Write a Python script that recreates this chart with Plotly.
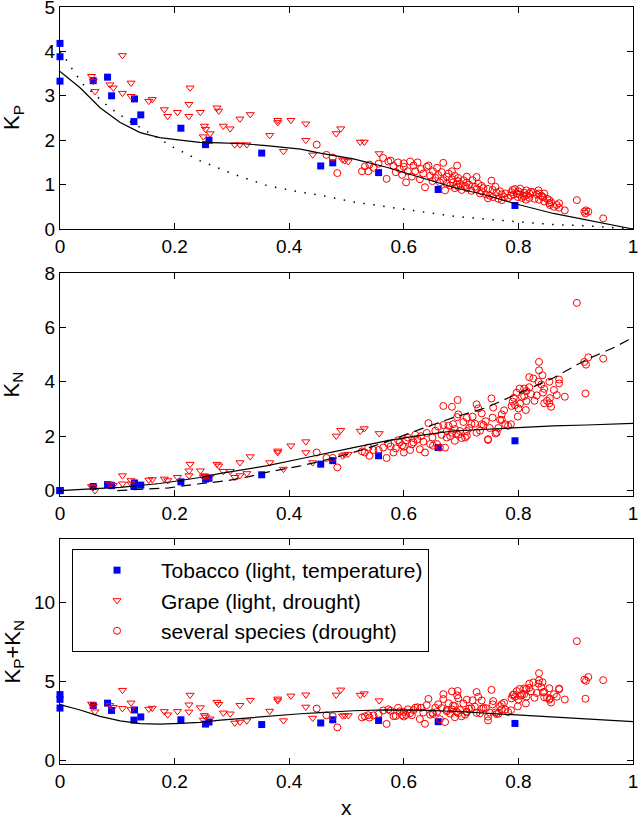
import plotly.graph_objects as go

# ---------------- data ----------------
# Tobacco (light, temperature)
tob_x  = [0, 0, 0, 0.058, 0.083, 0.09, 0.129, 0.13, 0.141, 0.211, 0.254, 0.26, 0.352, 0.455, 0.476, 0.556, 0.66, 0.794]
tob_kp = [4.18, 3.88, 3.33, 3.34, 3.42, 3.00, 2.42, 2.93, 2.57, 2.27, 1.90, 2.00, 1.71, 1.42, 1.49, 1.27, 0.89, 0.53]
tob_kn = [0, 0, 0, 0.15, 0.22, 0.18, 0.15, 0.28, 0.20, 0.32, 0.42, 0.45, 0.58, 0.97, 1.10, 1.28, 1.58, 1.83]

# Grape (light, drought)
gr_x  = [0.055, 0.058, 0.061, 0.087, 0.093, 0.109, 0.109, 0.124, 0.124, 0.155, 0.161, 0.182, 0.188, 0.205,
         0.227, 0.225, 0.225, 0.245, 0.252, 0.254, 0.250, 0.262, 0.274, 0.277, 0.285, 0.297, 0.305, 0.314,
         0.326, 0.314, 0.332, 0.366, 0.380, 0.380, 0.403, 0.429, 0.429, 0.390, 0.441, 0.482, 0.490, 0.524,
         0.531, 0.557, 0.493, 0.497, 0.503]
gr_kp = [3.44, 3.33, 3.10, 3.25, 3.18, 3.91, 3.06, 3.29, 2.99, 2.88, 2.92, 2.69, 2.54, 2.63,
         3.18, 2.81, 2.54, 2.63, 2.32, 2.25, 2.08, 2.15, 2.73, 2.66, 2.32, 2.26, 1.90, 1.90,
         1.90, 2.48, 2.58, 2.11, 2.45, 2.40, 2.45, 2.37, 2.00, 1.75, 1.67, 2.15, 2.26, 1.96,
         1.96, 1.70, 1.56, 1.54, 1.52]
gr_kn = [0.15, 0.12, 0.00, 0.25, 0.20, 0.55, 0.25, 0.37, 0.25, 0.39, 0.41, 0.43, 0.37, 0.49,
         0.97, 0.73, 0.55, 0.73, 0.55, 0.52, 0.50, 0.50, 0.97, 0.91, 0.71, 0.71, 0.49, 0.55,
         0.63, 1.03, 1.25, 1.03, 1.46, 1.40, 1.65, 1.80, 1.40, 0.79, 1.03, 2.01, 2.22, 2.19,
         2.28, 2.10, 1.28, 1.32, 1.34]

# several species (drought)
sp_x  = [0.448, 0.465, 0.476, 0.484, 0.527, 0.532, 0.538, 0.540, 0.547, 0.556, 0.564, 0.570, 0.573, 0.577,
         0.582, 0.586, 0.590, 0.593, 0.597, 0.600, 0.600, 0.604, 0.607, 0.611, 0.614, 0.617, 0.620, 0.624,
         0.628, 0.630, 0.634, 0.637, 0.640, 0.643, 0.646, 0.650, 0.651, 0.655, 0.658, 0.660, 0.663, 0.666,
         0.669, 0.669, 0.672, 0.675, 0.675, 0.678, 0.681, 0.684, 0.684, 0.686, 0.689, 0.689, 0.692, 0.693,
         0.694, 0.695, 0.695, 0.698, 0.701, 0.704, 0.707, 0.710, 0.710, 0.710, 0.714, 0.718, 0.720, 0.724,
         0.727, 0.727, 0.730, 0.733, 0.736, 0.736, 0.739, 0.743, 0.747, 0.747, 0.750, 0.753, 0.755, 0.756,
         0.760, 0.762, 0.765, 0.768, 0.771, 0.771, 0.775, 0.777, 0.782, 0.787, 0.788, 0.790, 0.792, 0.794,
         0.797, 0.799, 0.800, 0.802, 0.803, 0.806, 0.810, 0.810, 0.813, 0.814, 0.814, 0.819, 0.819, 0.822,
         0.826, 0.828, 0.832, 0.835, 0.836, 0.836, 0.840, 0.842, 0.843, 0.845, 0.845, 0.850, 0.854, 0.854,
         0.855, 0.857, 0.862, 0.867, 0.871, 0.871, 0.881, 0.902, 0.915, 0.917, 0.918, 0.922, 0.948]
sp_kp = [1.90, 1.67, 1.61, 1.26, 1.30, 1.41, 1.30, 1.45, 1.38, 1.47, 1.60, 1.13, 1.52, 1.54,
         1.42, 1.28, 1.50, 1.35, 1.22, 1.40, 1.48, 1.05, 1.30, 1.52, 1.18, 1.43, 1.30, 1.50,
         1.12, 1.35, 1.25, 0.94, 1.40, 1.43, 1.20, 1.08, 1.30, 1.15, 1.38, 1.22, 1.05, 1.28,
         1.49, 1.10, 0.87, 1.18, 1.02, 1.25, 0.98, 1.12, 1.30, 1.05, 0.92, 1.20, 1.00, 1.43,
         1.08, 0.95, 1.15, 1.02, 0.88, 1.10, 0.97, 1.05, 0.92, 1.18, 1.00, 0.86, 1.10, 0.95,
         1.17, 0.90, 1.02, 0.80, 0.97, 0.85, 0.92, 0.78, 0.69, 0.90, 0.75, 1.09, 0.88, 0.72,
         0.95, 0.82, 0.68, 0.85, 0.78, 0.65, 0.72, 0.80, 0.70, 0.75, 0.83, 0.88, 0.78, 0.90,
         0.80, 0.72, 0.85, 0.78, 0.91, 0.70, 0.82, 0.74, 0.66, 0.87, 0.76, 0.80, 0.70, 0.84,
         0.83, 0.68, 0.78, 0.87, 0.80, 0.66, 0.75, 0.72, 0.72, 0.62, 0.80, 0.68, 0.65, 0.58,
         0.54, 0.60, 0.50, 0.54, 0.48, 0.58, 0.42, 0.65, 0.39, 0.35, 0.42, 0.39, 0.24]
sp_kn = [1.40, 1.20, 1.20, 0.85, 1.44, 1.40, 1.58, 1.28, 1.49, 1.49, 1.58, 1.20, 1.73, 1.62,
         1.40, 1.55, 1.85, 1.77, 1.66, 1.40, 1.61, 1.85, 1.95, 1.49, 1.70, 1.77, 2.05, 1.88,
         1.52, 2.00, 1.80, 1.40, 2.12, 2.48, 1.71, 1.95, 1.65, 2.20, 1.71, 2.35, 1.58, 2.05,
         2.41, 3.11, 1.58, 1.95, 2.19, 2.38, 2.00, 2.13, 3.08, 2.44, 1.83, 2.26, 2.10, 2.70,
         3.33, 2.05, 2.80, 2.19, 1.93, 2.52, 1.95, 2.01, 2.19, 2.68, 2.30, 2.45, 2.72, 2.46,
         3.17, 2.13, 3.02, 2.20, 2.84, 2.44, 2.41, 2.55, 1.86, 1.89, 2.30, 3.39, 2.68, 3.05,
         2.10, 2.13, 2.30, 2.60, 2.80, 2.60, 2.95, 2.44, 2.38, 2.44, 3.11, 3.27, 3.41, 3.14,
         3.60, 2.72, 3.02, 3.75, 3.20, 3.45, 3.75, 3.47, 2.96, 3.66, 3.29, 3.80, 4.17, 3.55,
         4.12, 3.30, 3.50, 4.00, 4.73, 4.42, 3.90, 4.24, 3.60, 3.74, 3.21, 3.30, 3.21, 4.00,
         3.40, 3.08, 3.70, 3.51, 4.08, 3.94, 3.45, 6.90, 4.73, 3.57, 4.63, 4.90, 4.85]

# model curves
cx      = [0, 0.035, 0.07, 0.105, 0.14, 0.174, 0.21, 0.244, 0.28, 0.32, 0.36, 0.42, 0.454, 0.512,
           0.57, 0.628, 0.686, 0.744, 0.803, 0.861, 0.919, 1.0]
kp_line = [3.55, 3.18, 2.73, 2.40, 2.17, 2.06, 2.00, 1.95, 1.94, 1.92, 1.88, 1.80, 1.71, 1.58,
           1.39, 1.17, 0.94, 0.76, 0.54, 0.35, 0.20, 0.0]
kn_line = [0, 0.03, 0.08, 0.12, 0.18, 0.26, 0.37, 0.48, 0.63, 0.77, 0.91, 1.17, 1.33, 1.58,
           1.83, 2.03, 2.19, 2.25, 2.32, 2.38, 2.41, 2.47]

dot_x  = [0, 0.009, 0.026, 0.041, 0.064, 0.087, 0.116, 0.14, 0.169, 0.198, 0.244, 0.302, 0.361,
          0.419, 0.454, 0.512, 0.57, 0.628, 0.686, 0.744, 0.803, 0.861, 0.919, 0.97, 1.0]
dot_kp = [4.00, 3.85, 3.51, 3.25, 2.99, 2.73, 2.47, 2.28, 2.06, 1.84, 1.54, 1.24, 0.98,
          0.83, 0.76, 0.61, 0.50, 0.39, 0.29, 0.22, 0.16, 0.10, 0.07, 0.03, 0.0]

dash_x  = [0.10, 0.19, 0.24, 0.29, 0.33, 0.36, 0.42, 0.454, 0.512, 0.57, 0.628, 0.686, 0.744,
           0.803, 0.861, 0.919, 0.965, 1.0]
dash_kn = [0.0, 0.10, 0.24, 0.36, 0.51, 0.67, 0.91, 1.07, 1.40, 1.79, 2.25, 2.68, 3.05,
           3.59, 4.14, 4.82, 5.24, 5.63]

x_ticks = [0, 0.2, 0.4, 0.6, 0.8, 1]
x_ticktext = ["0", "0.2", "0.4", "0.6", "0.8", "1"]

# ---------------- figure ----------------
FONT = "Liberation Sans, Arial, Helvetica, sans-serif"
fig = go.Figure()

def add_panel(ax, ay, tob_y, gr_y, sp_y, lines, legend):
    fig.add_trace(go.Scatter(x=tob_x, y=tob_y, mode="markers", xaxis=ax, yaxis=ay,
                             name="Tobacco (light, temperature)", showlegend=legend, cliponaxis=False,
                             marker=dict(symbol="square", size=7, color="#0000ff",
                                         line=dict(width=0))))
    fig.add_trace(go.Scatter(x=gr_x, y=gr_y, mode="markers", xaxis=ax, yaxis=ay,
                             name="Grape (light, drought)", showlegend=legend, cliponaxis=False,
                             marker=dict(symbol="triangle-down-open", size=7, color="#ff0000",
                                         line=dict(width=1, color="#ff0000"))))
    fig.add_trace(go.Scatter(x=sp_x, y=sp_y, mode="markers", xaxis=ax, yaxis=ay,
                             name="several species (drought)", showlegend=legend, cliponaxis=False,
                             marker=dict(symbol="circle-open", size=7, color="#ff0000",
                                         line=dict(width=1, color="#ff0000"))))
    for lx, ly, dash, lw in lines:
        fig.add_trace(go.Scatter(x=lx, y=ly, mode="lines", xaxis=ax, yaxis=ay, showlegend=False,
                                 hoverinfo="skip",
                                 line=dict(color="black", width=lw, dash=dash)))

sum_tob = [a + b for a, b in zip(tob_kp, tob_kn)]
sum_gr = [a + b for a, b in zip(gr_kp, gr_kn)]
sum_sp = [a + b for a, b in zip(sp_kp, sp_kn)]
sum_line = [a + b for a, b in zip(kp_line, kn_line)]

add_panel("x", "y", tob_kp, gr_kp, sp_kp,
          [(cx, kp_line, "solid", 1.2), (dot_x, dot_kp, "1.5px,8.5px", 1.5)], False)
add_panel("x2", "y2", tob_kn, gr_kn, sp_kn,
          [(cx, kn_line, "solid", 1.2), (dash_x, dash_kn, "10px,6px", 1.2)], False)
add_panel("x3", "y3", sum_tob, sum_gr, sum_sp,
          [(cx, sum_line, "solid", 1.2)], True)

W, H = 639, 818
mt, mb, ml, mr = 7, 54, 60, 6
ph = H - mt - mb

def dom(top_px, bot_px):
    return [(H - mb - bot_px) / ph, (H - mb - top_px) / ph]

axis_common = dict(showline=True, linecolor="black", linewidth=1, mirror="ticks",
                   ticks="inside", ticklen=6, tickcolor="black", tickwidth=1,
                   showgrid=False, zeroline=False, automargin=False,
                   ticklabeloverflow="allow",
                   tickfont=dict(size=19, family=FONT, color="black"))

xa = dict(axis_common, range=[0, 1], tickvals=x_ticks, ticktext=x_ticktext)

fig.update_layout(
    width=W, height=H, margin=dict(l=ml, r=mr, t=mt, b=mb, autoexpand=False),
    paper_bgcolor="white", plot_bgcolor="white",
    font=dict(family=FONT, color="black"),
    xaxis=dict(xa, anchor="y"),
    xaxis2=dict(xa, anchor="y2"),
    xaxis3=dict(xa, anchor="y3"),
    yaxis=dict(axis_common, anchor="x", domain=dom(7, 229), range=[0, 5],
               tickvals=[0, 1, 2, 3, 4, 5]),
    yaxis2=dict(axis_common, anchor="x2", domain=dom(273, 496), range=[-0.2, 8],
                tickvals=[0, 2, 4, 6, 8]),
    yaxis3=dict(axis_common, anchor="x3", domain=dom(539, 764), range=[-0.2, 14],
                tickvals=[0, 5, 10]),
    legend=dict(x=0.021, y=(H - mb - 549) / ph, xanchor="left", yanchor="top",
                bordercolor="black", borderwidth=1, bgcolor="white",
                font=dict(size=21, family=FONT, color="black"), itemwidth=78,
                tracegroupgap=0),
    showlegend=True,
)

def ypaper(px):
    return (H - mb - px) / ph

for txt, ypx in [("K<sub>P</sub>", 118), ("K<sub>N</sub>", 384.5),
                 ("K<sub>P</sub>+K<sub>N</sub>", 651.5)]:
    fig.add_annotation(text=txt, xref="paper", yref="paper", x=(13 - ml) / (W - ml - mr),
                       y=ypaper(ypx), xanchor="center", yanchor="middle", textangle=-90,
                       showarrow=False, font=dict(size=22, family=FONT, color="black"))

fig.add_annotation(text="x", xref="paper", yref="paper", x=0.5, y=ypaper(807),
                   xanchor="center", yanchor="middle", showarrow=False,
                   font=dict(size=21, family=FONT, color="black"))

fig.write_html("out.html", config={"displayModeBar": False},
               post_script="document.body.style.margin='0';document.body.style.padding='0';")
